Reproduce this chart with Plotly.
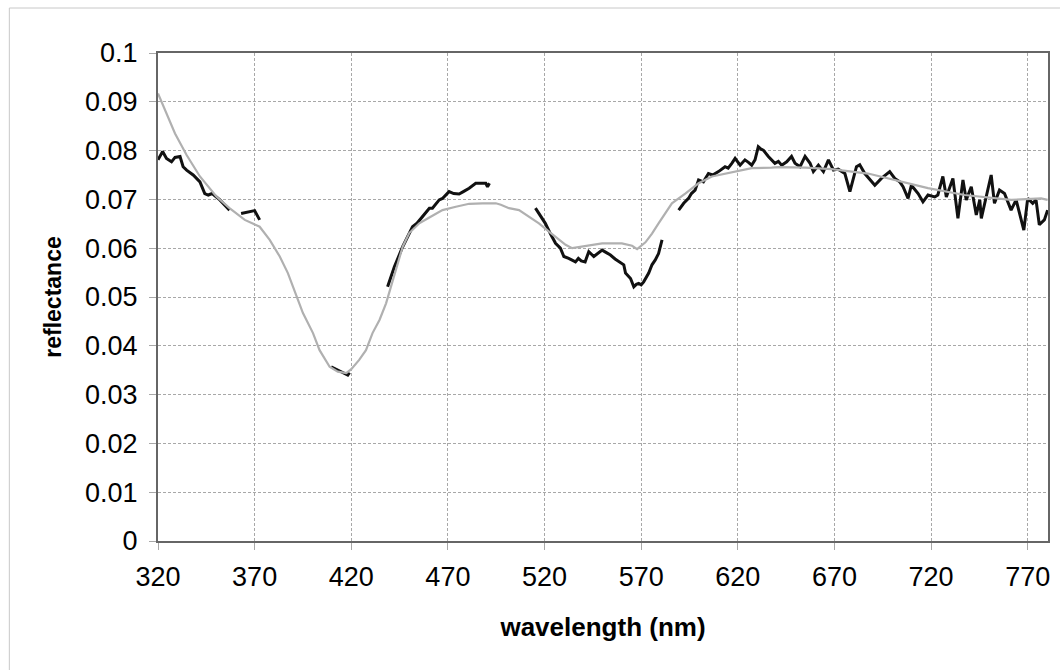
import plotly.graph_objects as go

# ---- measured spectrum (black) ----
meas_nm = [320, 322.4, 324.4, 327, 328.8, 331.4, 333, 334.8, 338.2, 341.7, 344.2, 346, 348, 352, 357, 360,
           363, 364.9, 367.5, 370, 372.6, 375,
           409.6, 412.2, 414.8, 416.5, 418.2, 419.1, 421,
           438.8, 442.3, 446.6, 450, 451.7, 454, 456.9, 460.4, 462, 465.5, 467.2, 470.6, 473, 475.8, 478, 481,
           484.4, 487, 489.6, 490.5, 491.5, 493,
           515.3, 518, 520.4, 523, 525.7, 528.2, 530, 532.5, 534, 536, 537.5, 539, 541, 542.9, 545.5, 547.5,
           549.8, 552, 554.1, 556.5, 558.5, 561, 561.9, 564.5, 566.2, 567.5, 568.7, 570, 571.3, 573.9, 575.6,
           577.3, 579, 580.8, 585,
           589.4, 592, 594.5, 596, 597.9, 599.7, 602.2, 604.8, 607, 610, 613.4, 615, 616.9, 618.6, 621.2,
           623.7, 625.5, 627.2, 628.9, 630.6, 632, 633.2, 635.8, 639.2, 641, 642.7, 645.3, 647.8, 649.6,
           652.2, 654.8, 657.4, 659.1, 661.7, 664.3, 666.9, 669.5, 671.9, 675.4, 678.0, 681.4, 683.1, 685.7,
           688.3, 690.9, 694.3, 698.6, 701.2, 703.8, 705.5, 708.1, 709.8, 713.3, 715.8, 718.4, 721.9, 723.5,
           726.1, 727.9, 731.3, 733.9, 736.5, 738.2, 740.8, 743.4, 745.2, 746.0, 748.5, 751.1, 752.8, 755.4,
           758.0, 761.4, 764.0, 765.7, 768.0, 770.0, 772.6, 774.3, 776.0, 778.6, 780.3]
meas_val = [0.0781, 0.0798, 0.0784, 0.0777, 0.0786, 0.0788, 0.0767, 0.0760, 0.0750, 0.0736, 0.0712, 0.0709, 0.0712, 0.0699, 0.0678, None,
            0.0671, 0.0673, 0.0675, 0.0677, 0.0658, None,
            0.0357, 0.0352, 0.0347, 0.0344, 0.0340, 0.0345, None,
            0.0521, 0.0562, 0.0603, 0.0631, 0.0644, 0.0651, 0.0665, 0.0682, 0.0682, 0.0699, 0.0702, 0.0716, 0.0712, 0.0711, 0.0716, 0.0723,
            0.0733, 0.0733, 0.0733, 0.0726, 0.0733, None,
            0.0682, 0.0665, 0.0651, 0.0630, 0.0610, 0.0600, 0.0583, 0.0579, 0.0576, 0.0572, 0.0579, 0.0574, 0.0572, 0.0593, 0.0583, 0.0590,
            0.0596, 0.0591, 0.0586, 0.0578, 0.0572, 0.0566, 0.0549, 0.0538, 0.0521, 0.0526, 0.0528, 0.0525, 0.0531, 0.0549, 0.0566,
            0.0576, 0.0589, 0.0617, None,
            0.0678, 0.0692, 0.0702, 0.0712, 0.0719, 0.0740, 0.0736, 0.0753, 0.0750, 0.0757, 0.0767, 0.0764, 0.0774, 0.0784, 0.0770,
            0.0781, 0.0776, 0.0770, 0.0781, 0.0808, 0.0803, 0.0801, 0.0788, 0.0774, 0.0778, 0.0770, 0.0777, 0.0788, 0.0774,
            0.0767, 0.0788, 0.0774, 0.0757, 0.0770, 0.0757, 0.0781, 0.0760, 0.0762, 0.0753, 0.0716, 0.0767, 0.0771, 0.0753,
            0.0740, 0.0729, 0.0743, 0.0757, 0.0743, 0.0736, 0.0726, 0.0702, 0.0729, 0.0712, 0.0695, 0.0709, 0.0705, 0.0709,
            0.0747, 0.0705, 0.0743, 0.0661, 0.0740, 0.0699, 0.0726, 0.0668, 0.0699, 0.0661, 0.0705, 0.0750, 0.0692, 0.0719,
            0.0712, 0.0678, 0.0699, 0.0672, 0.0637, 0.0702, 0.0692, 0.0699, 0.0648, 0.0658, 0.0678]

# ---- model spectrum (grey) ----
model_nm = [320, 324.4, 328.8, 334.8, 341.7, 350.2, 357, 364.9, 372.6, 377.8, 383, 387.2, 389.8, 395, 400.2,
            403.6, 408.8, 413, 417.4, 420, 424.1, 427.6, 431, 434.6, 438, 441.4, 444.9, 446.6, 450, 455.2,
            460.4, 467.2, 474.1, 481, 487.9, 494.8, 497.4, 501.6, 506.8, 512, 517.1, 522.3, 527.4, 530.9,
            534.3, 539.5, 544.6, 549.8, 555, 560, 565.3, 567.9, 572.2, 575.6, 579, 585.9, 592.8, 599.7, 606.6,
            613.5, 620.3, 627.2, 637.5, 641, 655, 668.5, 687.4, 701.2, 718.4, 737.3, 761.4, 776.9, 780.3]
model_val = [0.0917, 0.0876, 0.0835, 0.0791, 0.0747, 0.0706, 0.0682, 0.0658, 0.0644, 0.0617, 0.0583, 0.0549, 0.0521, 0.0467, 0.0426,
             0.0391, 0.0357, 0.0347, 0.0344, 0.0352, 0.0371, 0.0391, 0.0426, 0.0453, 0.0487, 0.0535, 0.0583, 0.0603, 0.0631, 0.0651,
             0.0663, 0.0678, 0.0685, 0.0691, 0.0692, 0.0692, 0.0689, 0.0682, 0.0678, 0.0665, 0.0651, 0.0634, 0.0617, 0.0607,
             0.0600, 0.0603, 0.0607, 0.0610, 0.0610, 0.0610, 0.0605, 0.0598, 0.0612, 0.0630, 0.0651, 0.0692, 0.0712, 0.0733, 0.0747,
             0.0753, 0.0759, 0.0764, 0.0765, 0.0766, 0.0765, 0.0762, 0.0753, 0.0740, 0.0723, 0.0709, 0.0699, 0.0702, 0.0699]

x_ticks = [320, 370, 420, 470, 520, 570, 620, 670, 720, 770]
y_ticks = [0, 0.01, 0.02, 0.03, 0.04, 0.05, 0.06, 0.07, 0.08, 0.09, 0.1]
y_labels = ["0", "0.01", "0.02", "0.03", "0.04", "0.05", "0.06", "0.07", "0.08", "0.09", "0.1"]

FONT = "Liberation Sans, Arial, sans-serif"

fig = go.Figure()
fig.add_trace(go.Scatter(x=meas_nm, y=meas_val, mode="lines", connectgaps=False,
                         line=dict(color="#111111", width=3), name="measured"))
fig.add_trace(go.Scatter(x=model_nm, y=model_val, mode="lines",
                         line=dict(color="#b0b0b0", width=2.2), name="model"))

L, R, T, B = 158, 10, 53, 129
W, H = 1060, 670
pw, ph = W - L - R, H - T - B

def px(xp):
    return (xp - L) / pw

def py(yp):
    return (H - B - yp) / ph

shapes = [
    dict(type="line", xref="paper", yref="paper", x0=px(9), x1=px(1062), y0=py(8), y1=py(8),
         line=dict(color="#c8c8c8", width=1)),
    dict(type="line", xref="paper", yref="paper", x0=px(9), x1=px(9), y0=py(8), y1=py(672),
         line=dict(color="#c8c8c8", width=1)),
]

fig.update_layout(
    width=W, height=H,
    margin=dict(l=L, r=R, t=T, b=B),
    paper_bgcolor="white", plot_bgcolor="white",
    showlegend=False,
    font=dict(family=FONT, color="black"),
    shapes=shapes,
)
fig.update_xaxes(
    range=[320, 780.5], tickvals=x_ticks, ticktext=[str(v) for v in x_ticks],
    showgrid=True, gridcolor="#a8a8a8", griddash="3px,2px", gridwidth=1,
    ticks="outside", ticklen=7, tickcolor="#a8a8a8", tickwidth=1,
    showline=True, linecolor="#666666", linewidth=2, mirror=True,
    tickfont=dict(size=27, family=FONT, color="black"), ticklabelstandoff=4,
    zeroline=False,
    title=dict(text="<b>wavelength (nm)</b>", font=dict(size=26, family=FONT, color="black"), standoff=26),
)
fig.update_yaxes(
    range=[0, 0.1], tickvals=y_ticks, ticktext=y_labels,
    showgrid=True, gridcolor="#a8a8a8", griddash="3px,2px", gridwidth=1,
    ticks="outside", ticklen=7, tickcolor="#a8a8a8", tickwidth=1,
    showline=True, linecolor="#666666", linewidth=2, mirror=True,
    tickfont=dict(size=27, family=FONT, color="black"), ticklabelstandoff=6,
    zeroline=False,
    title=dict(text="<b>reflectance</b>", font=dict(size=23, family=FONT, color="black"), standoff=17),
)

fig.write_html("out.html")
